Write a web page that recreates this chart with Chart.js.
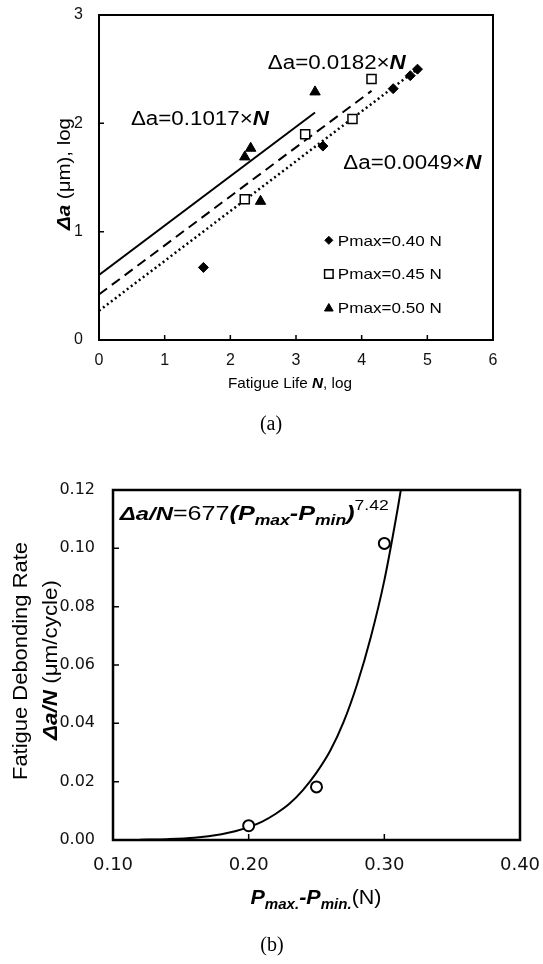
<!DOCTYPE html>
<html>
<head>
<meta charset="utf-8">
<script src="https://cdn.jsdelivr.net/npm/chart.js@4.4.0/dist/chart.umd.min.js"></script>
<style>
  body { margin: 0; background: #fff; }
  #wrap { position: relative; width: 543px; height: 964px; }
  canvas { position: absolute; left: 0; }
  #chartA { top: 0; }
  #chartB { top: 450px; }
</style>
</head>
<body>
<div id="wrap">
  <canvas id="chartA" width="543" height="450"></canvas>
  <canvas id="chartB" width="543" height="514"></canvas>
</div>
<script>
// ---- (a) debond length vs fatigue life, both log ----
const xTicksA = ['0', '1', '2', '3', '4', '5', '6'];
const yTicksA = ['0', '1', '2', '3'];
const legendLabels = ['Pmax=0.40 N', 'Pmax=0.45 N', 'Pmax=0.50 N'];

const p40x = [1.59, 3.41, 4.48, 4.74, 4.85];
const p40y = [0.67, 1.79, 2.32, 2.44, 2.50];
const p45x = [2.22, 3.14, 3.86, 4.15];
const p45y = [1.30, 1.90, 2.04, 2.41];
const p50x = [2.22, 2.31, 2.46, 3.29];
const p50y = [1.69, 1.77, 1.28, 2.29];

// fit lines (end points)
const fit50x = [0, 3.29], fit50y = [0.60, 2.10];
const fit45x = [0, 4.15], fit45y = [0.42, 2.30];
const fit40x = [0, 4.89], fit40y = [0.27, 2.52];
const fitLabels = ['Δa=0.1017×', 'Δa=0.0182×', 'Δa=0.0049×'];

// ---- (b) debonding rate vs load range ----
const xTicksB = ['0.10', '0.20', '0.30', '0.40'];
const yTicksB = ['0.00', '0.02', '0.04', '0.06', '0.08', '0.10', '0.12'];
const loadRange = [0.20, 0.25, 0.30];
const debondRate = [0.0049, 0.0182, 0.1017];
// power-law fit curve
const curveX = [0.12, 0.14, 0.16, 0.18, 0.19, 0.20, 0.21, 0.22, 0.23, 0.24, 0.25, 0.26, 0.27, 0.28, 0.29, 0.30, 0.31, 0.315];
const curveY = [0.0001, 0.0003, 0.0008, 0.0020, 0.0030, 0.0044, 0.0063, 0.0090, 0.0124, 0.0171, 0.0231, 0.0305, 0.0405, 0.0535, 0.0695, 0.0890, 0.1140, 0.1280];

const SANS = '"Liberation Sans", Arial, sans-serif';

function xy(xs, ys) {
  return xs.map((x, i) => ({ x: x, y: ys[i] }));
}

// text made of pieces with their own font; w = width to stretch it to
function richText(ctx, parts, x, y, opt) {
  opt = opt || {};
  ctx.save();
  ctx.translate(x, y);
  if (opt.rot) ctx.rotate(opt.rot);
  ctx.fillStyle = '#000';
  ctx.textBaseline = 'alphabetic';
  ctx.textAlign = 'left';
  let w = 0;
  parts.forEach(p => { ctx.font = p.f; w += ctx.measureText(p.t).width; });
  const sx = opt.w ? opt.w / w : 1;
  ctx.scale(sx, 1);
  let cx = opt.align === 'center' ? -w / 2 : (opt.align === 'right' ? -w : 0);
  parts.forEach(p => {
    ctx.font = p.f;
    ctx.fillText(p.t, cx, p.dy || 0);
    cx += ctx.measureText(p.t).width;
  });
  ctx.restore();
}

// keep the plot box where the layout padding puts it
function fixX(h) {
  return s => { s.height = h; s.paddingLeft = 0; s.paddingRight = 0; };
}
function fixY(w) {
  return s => { s.width = w; s.paddingTop = 0; s.paddingBottom = 0; };
}

// box around plot + short inward ticks
const framePlugin = {
  id: 'frame',
  afterDatasetsDraw(chart, args, opts) {
    const { ctx, chartArea: a, scales } = chart;
    ctx.save();
    ctx.strokeStyle = '#000';
    ctx.lineWidth = 1.5;
    ctx.beginPath();
    scales.x.ticks.forEach(t => {
      const px = scales.x.getPixelForValue(t.value);
      ctx.moveTo(px, a.bottom);
      ctx.lineTo(px, a.bottom - opts.tick);
    });
    scales.y.ticks.forEach(t => {
      const py = scales.y.getPixelForValue(t.value);
      ctx.moveTo(a.left, py);
      ctx.lineTo(a.left + opts.tick, py);
    });
    ctx.stroke();
    ctx.lineWidth = opts.width;
    ctx.strokeRect(a.left, a.top, a.width, a.height);
    ctx.restore();
  }
};

const textsA = {
  id: 'textsA',
  afterDraw(chart) {
    const ctx = chart.ctx;
    const xs = chart.scales.x, ys = chart.scales.y;
    const f20 = '20px ' + SANS, f20b = 'italic bold 20px ' + SANS;
    const spots = [[0.486, 2.05], [2.57, 2.57], [3.72, 1.646]];
    fitLabels.forEach((lab, i) => {
      richText(ctx, [{ t: lab, f: f20 }, { t: 'N', f: f20b }],
        xs.getPixelForValue(spots[i][0]), ys.getPixelForValue(spots[i][1]) + 7, { w: 138 });
    });

    // legend
    const styles = [
      { pointStyle: 'rectRot', radius: 4, fill: '#000', bw: 1 },
      { pointStyle: 'rect', radius: 6, fill: '#fff', bw: 1.5 },
      { pointStyle: 'triangle', radius: 5, fill: '#000', bw: 1 }
    ];
    const rows = [0.92, 0.61, 0.30];
    legendLabels.forEach((lab, i) => {
      const mx = xs.getPixelForValue(3.5), my = ys.getPixelForValue(rows[i]);
      ctx.save();
      ctx.fillStyle = styles[i].fill;
      ctx.strokeStyle = '#000';
      ctx.lineWidth = styles[i].bw;
      Chart.helpers.drawPoint(ctx, { pointStyle: styles[i].pointStyle, radius: styles[i].radius, borderWidth: styles[i].bw, rotation: 0 }, mx, my + (i === 2 ? 1 : 0));
      ctx.restore();
      richText(ctx, [{ t: lab, f: '15px ' + SANS }], mx + 9, my + 5.5, { w: 104 });
    });

    // axis titles
    richText(ctx, [
      { t: 'Fatigue Life ', f: '15px ' + SANS },
      { t: 'N', f: 'italic bold 15px ' + SANS },
      { t: ', log', f: '15px ' + SANS }
    ], 290, 388, { align: 'center', w: 124 });
    richText(ctx, [
      { t: 'Δa', f: 'italic bold 18px ' + SANS },
      { t: ' (μm), log', f: '18px ' + SANS }
    ], 70, 174, { align: 'center', rot: -Math.PI / 2, w: 112 });

    ctx.save();
    ctx.fillStyle = '#000';
    ctx.font = '20px "Liberation Serif", serif';
    ctx.textAlign = 'center';
    ctx.textBaseline = 'middle';
    ctx.fillText('(a)', 271, 425);
    ctx.restore();
  }
};

const textsB = {
  id: 'textsB',
  afterDraw(chart) {
    const ctx = chart.ctx;
    const xs = chart.scales.x, ys = chart.scales.y;
    const bi = s => 'italic bold ' + s + 'px ' + SANS;
    const rg = s => s + 'px ' + SANS;
    richText(ctx, [
      { t: 'Δa/N', f: bi(19) },
      { t: '=677', f: rg(20) },
      { t: '(', f: bi(20) },
      { t: 'P', f: bi(20) },
      { t: 'max', f: bi(14), dy: 5 },
      { t: '-', f: bi(20) },
      { t: 'P', f: bi(20) },
      { t: 'min', f: bi(14), dy: 5 },
      { t: ')', f: bi(20) },
      { t: '7.42', f: rg(14), dy: -10 }
    ], xs.getPixelForValue(0.105), ys.getPixelForValue(0.1097), { w: 269 });

    richText(ctx, [
      { t: 'P', f: bi(20) },
      { t: 'max.', f: bi(14), dy: 5 },
      { t: '-', f: bi(20) },
      { t: 'P', f: bi(20) },
      { t: 'min.', f: bi(14), dy: 5 },
      { t: '(N)', f: rg(20) }
    ], 316, 454, { align: 'center', w: 131 });

    richText(ctx, [{ t: 'Fatigue Debonding Rate', f: rg(20) }], 27, 211,
      { align: 'center', rot: -Math.PI / 2, w: 238 });
    richText(ctx, [
      { t: 'Δa/N', f: bi(20) },
      { t: ' (μm/cycle)', f: rg(20) }
    ], 57, 210, { align: 'center', rot: -Math.PI / 2, w: 160 });

    ctx.save();
    ctx.fillStyle = '#000';
    ctx.font = '20px "Liberation Serif", serif';
    ctx.textAlign = 'center';
    ctx.textBaseline = 'middle';
    ctx.fillText('(b)', 272, 496);
    ctx.restore();
  }
};

new Chart(document.getElementById('chartA'), {
  type: 'scatter',
  data: {
    datasets: [
      { label: legendLabels[0], data: xy(p40x, p40y), pointStyle: 'rectRot', pointRadius: 5,
        backgroundColor: '#000', borderColor: '#000', borderWidth: 1 },
      { label: legendLabels[1], data: xy(p45x, p45y), pointStyle: 'rect', pointRadius: 6.4,
        backgroundColor: '#fff', borderColor: '#000', borderWidth: 1.5 },
      { label: legendLabels[2], data: xy(p50x, p50y), pointStyle: 'triangle', pointRadius: 6,
        backgroundColor: '#000', borderColor: '#000', borderWidth: 1 },
      { label: 'fit 0.50', data: xy(fit50x, fit50y), showLine: true, pointRadius: 0,
        borderColor: '#000', borderWidth: 2 },
      { label: 'fit 0.45', data: xy(fit45x, fit45y), showLine: true, pointRadius: 0,
        borderColor: '#000', borderWidth: 2, borderDash: [10, 6] },
      { label: 'fit 0.40', data: xy(fit40x, fit40y), showLine: true, pointRadius: 0,
        borderColor: '#000', borderWidth: 2.5, borderDash: [2, 3] }
    ]
  },
  options: {
    responsive: false,
    animation: false,
    layout: { padding: { top: 15, right: 50, left: 0, bottom: 0 } },
    plugins: { legend: { display: false }, tooltip: { enabled: false }, frame: { width: 2, tick: 5 } },
    scales: {
      x: {
        type: 'linear', min: 0, max: 6,
        afterFit: fixX(110),
        grid: { display: false, drawTicks: false },
        border: { display: false },
        ticks: { stepSize: 1, padding: 11, color: '#111', font: { family: SANS, size: 16 },
          callback: (v, i) => xTicksA[i] }
      },
      y: {
        type: 'linear', min: 0, max: 3,
        afterFit: fixY(99),
        grid: { display: false, drawTicks: false },
        border: { display: false },
        ticks: { stepSize: 1, padding: 16, color: '#111', font: { family: SANS, size: 16 },
          callback: (v, i) => yTicksA[i] }
      }
    }
  },
  plugins: [framePlugin, textsA]
});

new Chart(document.getElementById('chartB'), {
  type: 'scatter',
  data: {
    datasets: [
      { label: 'measured', data: xy(loadRange, debondRate), pointStyle: 'circle', pointRadius: 5.5,
        backgroundColor: '#fff', borderColor: '#000', borderWidth: 2 },
      { label: 'fit', data: xy(curveX, curveY), showLine: true, pointRadius: 0,
        borderColor: '#000', borderWidth: 2, cubicInterpolationMode: 'monotone' }
    ]
  },
  options: {
    responsive: false,
    animation: false,
    layout: { padding: { top: 40, right: 23, left: 0, bottom: 0 } },
    plugins: { legend: { display: false }, tooltip: { enabled: false }, frame: { width: 2.5, tick: 6 } },
    scales: {
      x: {
        type: 'linear', min: 0.1, max: 0.4,
        afterFit: fixX(124),
        grid: { display: false, drawTicks: false },
        border: { display: false },
        ticks: { stepSize: 0.1, padding: 15, color: '#111', font: { family: '"DejaVu Sans", sans-serif', size: 18 },
          callback: (v, i) => xTicksB[i] }
      },
      y: {
        type: 'linear', min: 0, max: 0.12,
        afterFit: fixY(113),
        grid: { display: false, drawTicks: false },
        border: { display: false },
        ticks: { stepSize: 0.02, padding: 18, color: '#111', font: { family: '"DejaVu Sans", sans-serif', size: 16 },
          callback: (v, i) => yTicksB[i] }
      }
    }
  },
  plugins: [framePlugin, textsB]
});
</script>
</body>
</html>
